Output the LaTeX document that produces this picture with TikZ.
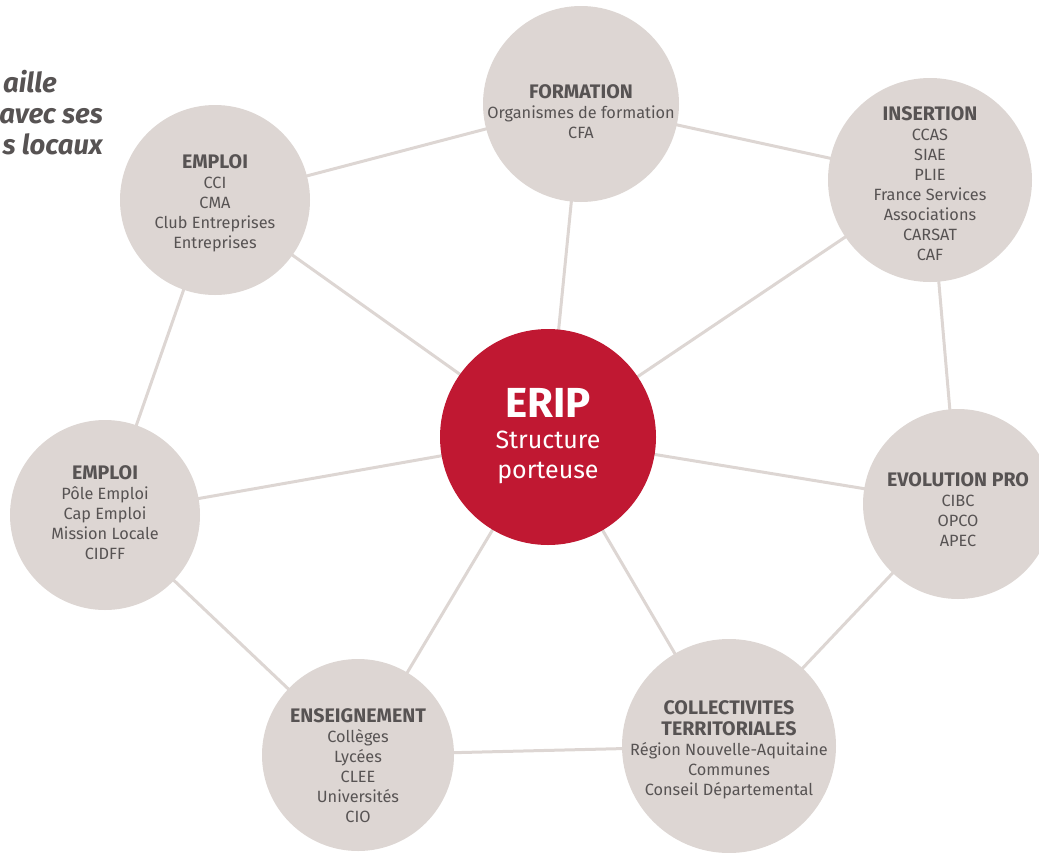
\documentclass[tikz,border=0pt]{standalone}
\usepackage{fontspec}
\setmainfont{Fira Sans}
\definecolor{disc}{HTML}{DDD6D3}
\definecolor{edge}{HTML}{DDD6D3}
\definecolor{eripred}{HTML}{C01832}
\definecolor{txt}{HTML}{575353}
\newcommand{\hd}[1]{{\fontsize{19.6}{20}\selectfont\bfseries #1}}
\begin{document}
\begin{tikzpicture}[x=1pt,y=-1pt,
  disk/.style={circle,fill=disc,inner sep=0pt,minimum size=#1},
  link/.style={draw=edge,line width=3pt},
  lbl/.style={align=center,text=txt,font=\fontsize{16.3}{20}\selectfont,inner sep=0pt},
  intro/.style={anchor=base east,text=txt,font=\fontsize{27.5}{30}\selectfont\bfseries\itshape,inner sep=0pt}]
\useasboundingbox (0,0) rectangle (1039,852);
% circle positions
\coordinate (cERIP) at (548,437);
\coordinate (cFOR) at (581,104);
\coordinate (cINS) at (930,180);
\coordinate (cEMT) at (215,200);
\coordinate (cEML) at (105,515);
\coordinate (cEVO) at (958,504);
\coordinate (cENS) at (358,755);
\coordinate (cCOL) at (729,746);
% connectors
\draw[link] (cEMT) -- (cFOR);
\draw[link] (cFOR) -- (cINS);
\draw[link] (cFOR) -- (cERIP);
\draw[link] (cINS) -- (cERIP);
\draw[link] (cINS) -- (cEVO);
\draw[link] (cEMT) -- (cERIP);
\draw[link] (cEMT) -- (cEML);
\draw[link] (cEML) -- (cERIP);
\draw[link] (cEML) -- (cENS);
\draw[link] (cENS) -- (cERIP);
\draw[link] (cENS) -- (cCOL);
\draw[link] (cCOL) -- (cERIP);
\draw[link] (cCOL) -- (cEVO);
\draw[link] (cEVO) -- (cERIP);
% discs
\node[disk=196pt] (FOR) at (cFOR) {};
\node[disk=204pt] (INS) at (cINS) {};
\node[disk=190pt] (EMT) at (cEMT) {};
\node[disk=190pt] (EML) at (cEML) {};
\node[disk=190pt] (EVO) at (cEVO) {};
\node[disk=192pt] (ENS) at (cENS) {};
\node[disk=214pt] (COL) at (cCOL) {};
\node[circle,fill=eripred,inner sep=0pt,minimum size=216pt] (ERIP) at (cERIP) {};
% labels
\node[lbl] (tFOR) at (581,112) {\hd{FORMATION}\\Organismes de formation\\CFA};
\node[lbl] (tINS) at (930,184) {\hd{INSERTION}\\CCAS\\SIAE\\PLIE\\France Services\\Associations\\CARSAT\\CAF};
\node[lbl] (tEMT) at (215,203) {\hd{EMPLOI}\\CCI\\CMA\\Club Entreprises\\Entreprises};
\node[lbl] (tEML) at (105,513) {\hd{EMPLOI}\\Pôle Emploi\\Cap Emploi\\Mission Locale\\CIDFF};
\node[lbl] (tEVO) at (958,510) {\hd{EVOLUTION PRO}\\CIBC\\OPCO\\APEC};
\node[lbl] (tENS) at (358,766) {\hd{ENSEIGNEMENT}\\Collèges\\Lycées\\CLEE\\Universités\\CIO};
\node[lbl] (tCOL) at (729,750) {\hd{COLLECTIVITES}\\[1pt]\hd{TERRITORIALES}\\Région Nouvelle-Aquitaine\\Communes\\Conseil Départemental};
\node[inner sep=0pt,text=white,font=\fontsize{42}{44}\selectfont\bfseries] (tE1) at (548,403) {ERIP};
\node[inner sep=0pt,text=white,align=center,font=\fontsize{25}{30}\selectfont] (tE2) at (548,457) {Structure\\porteuse};
% intro text (cut at left edge)
\node[intro] (i1) at (57,92) {aille};
\node[intro] (i2) at (103,123) {avec ses};
\node[intro] (i3) at (103,154) {s locaux};
\end{tikzpicture}
\end{document}
